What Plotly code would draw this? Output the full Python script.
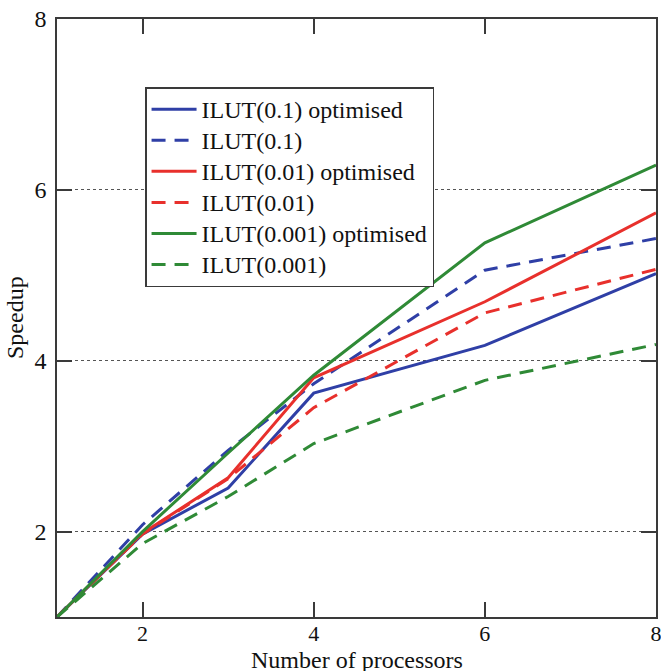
import plotly.graph_objects as go

# Number of processors used in the parallel runs
procs = [1, 2, 3, 4, 6, 8]

# Measured speedup for each ILUT drop tolerance
ilut_01_opt = [1.0, 1.97, 2.51, 3.62, 4.18, 5.02]
ilut_01 = [1.0, 2.08, 2.95, 3.73, 5.06, 5.43]
ilut_001_opt = [1.0, 1.98, 2.63, 3.80, 4.69, 5.73]
ilut_001 = [1.0, 1.97, 2.62, 3.45, 4.56, 5.07]
ilut_0001_opt = [1.0, 2.00, 2.92, 3.83, 5.38, 6.29]
ilut_0001 = [1.0, 1.86, 2.41, 3.03, 3.77, 4.19]

series_names = [
    "ILUT(0.1) optimised", "ILUT(0.1)",
    "ILUT(0.01) optimised", "ILUT(0.01)",
    "ILUT(0.001) optimised", "ILUT(0.001)",
]
series_values = [ilut_01_opt, ilut_01, ilut_001_opt, ilut_001, ilut_0001_opt, ilut_0001]

x_ticks = [2, 4, 6, 8]
y_ticks = [2, 4, 6, 8]

BLUE = "#2f3fa6"
RED = "#e8302c"
GREEN = "#2f8a36"
colors = [BLUE, BLUE, RED, RED, GREEN, GREEN]
dashes = ["solid", "14px,9px", "solid", "14px,9px", "solid", "14px,9px"]

FONT = "Liberation Serif, Times New Roman, serif"
FONT_SIZE = 24
AXIS_COLOR = "#3a3a3a"

fig = go.Figure()
for i, (name, vals) in enumerate(zip(series_names, series_values)):
    fig.add_trace(go.Scatter(
        x=procs, y=vals, mode="lines",
        # legend rows are packed tighter than the label glyph size
        name=f"<span style='font-size:{FONT_SIZE}px'>{name}</span>",
        line=dict(color=colors[i], width=3, dash=dashes[i]),
    ))

axis_common = dict(
    showline=True, linecolor=AXIS_COLOR, linewidth=1.5, mirror="ticks",
    ticks="inside", ticklen=15, tickwidth=1.5, tickcolor=AXIS_COLOR,
    zeroline=False, automargin=False, ticklabeloverflow="allow",
)

fig.update_layout(
    width=661, height=671,
    margin=dict(l=57, r=5, t=19, b=54),
    paper_bgcolor="white", plot_bgcolor="white",
    font=dict(family=FONT, size=FONT_SIZE, color="#111"),
    showlegend=True,
    legend=dict(
        x=0.147, y=0.886, xanchor="left", yanchor="top",
        bgcolor="white", bordercolor=AXIS_COLOR, borderwidth=1.5,
        font=dict(family=FONT, size=21.6, color="#111"),
        itemwidth=45,
    ),
    xaxis=dict(range=[1, 8], tickvals=x_ticks, showgrid=False,
               ticklabelstandoff=-4,
               tickfont=dict(family=FONT, size=22, color="#111"),
               **axis_common),
    yaxis=dict(range=[1, 8], tickvals=y_ticks, showgrid=True,
               gridcolor="#555", griddash="dot", gridwidth=1,
               ticklabelstandoff=4,
               tickfont=dict(family=FONT, size=FONT_SIZE, color="#111"),
               **axis_common),
)

# Axis titles
fig.add_annotation(
    text="Number of processors", xref="paper", yref="paper",
    x=0.5, y=0, xanchor="center", yanchor="top", yshift=-28,
    showarrow=False, font=dict(family=FONT, size=FONT_SIZE, color="#111"),
)
fig.add_annotation(
    text="Speedup", xref="paper", yref="paper", textangle=-90,
    x=0, y=0.5, xanchor="center", yanchor="middle", xshift=-42,
    showarrow=False, font=dict(family=FONT, size=FONT_SIZE, color="#111"),
)

fig.write_html("out.html")
